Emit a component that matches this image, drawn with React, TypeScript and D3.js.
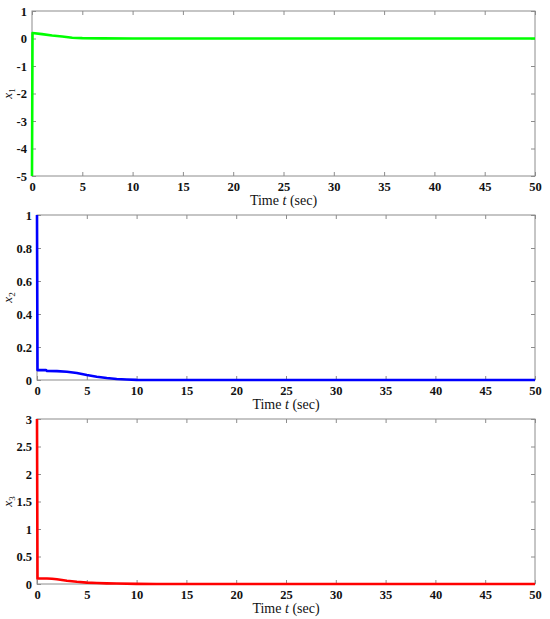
import React, { useEffect, useRef } from 'react';
import * as d3 from 'd3';

// time samples and state trajectories
const time1 = [0, 0.05, 1, 2, 3, 4, 5, 7, 10, 50];
const x1Values = [-5, 0.2, 0.16, 0.11, 0.07, 0.025, 0.012, 0.004, 0, 0];

const time2 = [0, 0.05, 0.9, 1, 2, 3, 4, 5, 6, 7, 8, 9, 10, 12, 50];
const x2Values = [1, 0.06, 0.06, 0.055, 0.054, 0.05, 0.042, 0.03, 0.02, 0.012, 0.006, 0.003, 0.001, 0, 0];

const time3 = [0, 0.05, 1, 1.5, 2, 3, 4, 5, 6, 7, 8, 10, 12, 50];
const x3Values = [3, 0.1, 0.1, 0.095, 0.085, 0.06, 0.04, 0.025, 0.018, 0.012, 0.008, 0.003, 0, 0];

const xTicks = [0, 5, 10, 15, 20, 25, 30, 35, 40, 45, 50];
const y1Ticks = [-5, -4, -3, -2, -1, 0, 1];
const y2Ticks = [0, 0.2, 0.4, 0.6, 0.8, 1];
const y3Ticks = [0, 0.5, 1, 1.5, 2, 2.5, 3];

const width = 550;
const height = 619;
const serif = 'Liberation Serif';

const App = () => {
  const svgRef = useRef(null);

  useEffect(() => {
    const svg = d3.select(svgRef.current);
    svg.selectAll('*').remove();

    const panels = [
      { t: time1, v: x1Values, ticks: y1Ticks, domain: [-5, 1], color: '#00ff00', sub: '1', left: 32, top: 11, bottom: 176 },
      { t: time2, v: x2Values, ticks: y2Ticks, domain: [0, 1], color: '#0000ff', sub: '2', left: 37, top: 215, bottom: 380 },
      { t: time3, v: x3Values, ticks: y3Ticks, domain: [0, 3], color: '#ff0000', sub: '3', left: 37, top: 419, bottom: 584 },
    ];
    const right = 535;

    panels.forEach((p) => {
      const x = d3.scaleLinear([0, 50], [p.left, right]);
      const y = d3.scaleLinear(p.domain, [p.bottom, p.top]);
      const g = svg.append('g');

      // frame
      g.append('rect')
        .attr('x', p.left).attr('y', p.top)
        .attr('width', right - p.left).attr('height', p.bottom - p.top)
        .attr('fill', 'white').attr('stroke', '#8c8c8c').attr('stroke-width', 1);

      const styleAxis = (ax) => {
        ax.select('.domain').remove();
        ax.attr('font-family', serif).attr('font-size', 12.5);
        ax.selectAll('.tick line').attr('stroke', '#8c8c8c');
        ax.selectAll('.tick text')
          .attr('font-weight', 'bold')
          .attr('fill', '#111');
      };

      g.append('g')
        .attr('transform', `translate(0,${p.bottom})`)
        .call(d3.axisBottom(x).tickValues(xTicks).tickSizeInner(-4).tickSizeOuter(0).tickPadding(6).tickFormat(d3.format('d')))
        .call(styleAxis);
      g.append('g')
        .attr('transform', `translate(0,${p.top})`)
        .call(d3.axisTop(x).tickValues(xTicks).tickSizeInner(-4).tickSizeOuter(0).tickFormat(() => ''))
        .call(styleAxis);
      g.append('g')
        .attr('transform', `translate(${p.left},0)`)
        .call(d3.axisLeft(y).tickValues(p.ticks).tickSizeInner(-4).tickSizeOuter(0).tickPadding(5).tickFormat((d) => String(d)))
        .call(styleAxis);
      g.append('g')
        .attr('transform', `translate(${right},0)`)
        .call(d3.axisRight(y).tickValues(p.ticks).tickSizeInner(-4).tickSizeOuter(0).tickFormat(() => ''))
        .call(styleAxis);

      const data = p.t.map((t, i) => [t, p.v[i]]);
      const line = d3.line().x((d) => x(d[0])).y((d) => y(d[1]));
      g.append('path')
        .attr('d', line(data))
        .attr('fill', 'none')
        .attr('stroke', p.color)
        .attr('stroke-width', 2.6)
        .attr('stroke-linejoin', 'round');

      // x label
      const xl = g.append('text')
        .attr('x', (p.left + right) / 2)
        .attr('y', p.bottom + 29)
        .attr('text-anchor', 'middle')
        .attr('font-family', serif)
        .attr('font-size', 14)
        .attr('fill', '#111');
      xl.append('tspan').text('Time ');
      xl.append('tspan').attr('font-style', 'italic').text('t');
      xl.append('tspan').text(' (sec)');

      // y label
      const cy = (p.top + p.bottom) / 2;
      const yl = g.append('text')
        .attr('transform', `translate(12,${cy}) rotate(-90)`)
        .attr('text-anchor', 'middle')
        .attr('font-family', serif)
        .attr('font-size', 13)
        .attr('fill', '#111');
      yl.append('tspan').attr('font-style', 'italic').text('x');
      yl.append('tspan').attr('font-size', 9).attr('dy', 3).text(p.sub);
    });
  }, []);

  return (
    <div style={{ position: 'absolute', left: 0, top: 0 }}>
      <svg ref={svgRef} width={width} height={height} viewBox={`0 0 ${width} ${height}`} style={{ display: 'block', background: 'white' }} />
    </div>
  );
};

export default App;
